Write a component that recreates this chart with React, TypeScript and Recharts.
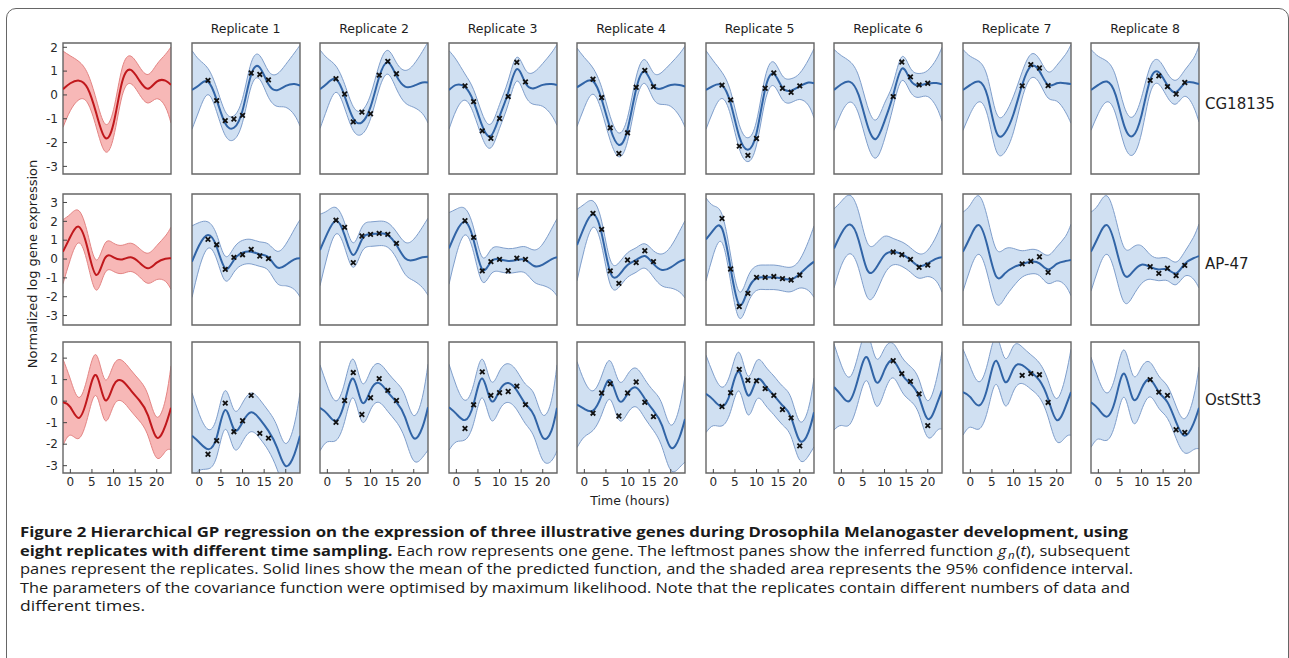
import React from "react";
import { Area, ComposedChart, Line, ReferenceArea, Scatter, XAxis, YAxis } from "recharts";

// time grid (hours) shared by all panels
const TIMES = [-1.7, 0, 2, 4, 6, 8, 10, 12, 14, 16, 18, 20, 22, 23.3];

const GENES = ["CG18135", "AP-47", "OstStt3"];
const REPLICATES = ["Replicate 1", "Replicate 2", "Replicate 3", "Replicate 4", "Replicate 5", "Replicate 6", "Replicate 7", "Replicate 8"];
const X_TICKS = [0, 5, 10, 15, 20];
const Y_TICKS = [
  [2, 1, 0, -1, -2, -3],
  [3, 2, 1, 0, -1, -2, -3],
  [2, 1, 0, -1, -2, -3],
];

// CG18135: row 0 = inferred g_n(t), rows 1..8 = replicates
const cgMeans = [
  [0.24, 0.49, 0.6, 0.28, -0.77, -1.79, -1.2, 0.55, 1.05, 0.6, 0.26, 0.56, 0.6, 0.42],
  [0.21, 0.42, 0.56, -0.2, -1.2, -1.38, -0.65, 0.85, 1.15, 0.45, 0.2, 0.38, 0.46, 0.39],
  [0.24, 0.49, 0.66, -0.05, -0.99, -1.15, -0.5, 0.75, 1.37, 0.8, 0.35, 0.38, 0.52, 0.52],
  [0.21, 0.42, 0.33, -0.28, -1.3, -1.72, -0.9, 0.1, 1.08, 0.5, 0.28, 0.42, 0.46, 0.42],
  [0.32, 0.52, 0.58, -0.18, -1.41, -2.1, -1.45, 0.25, 0.98, 0.38, 0.28, 0.42, 0.42, 0.35],
  [0.21, 0.38, 0.4, -0.35, -1.75, -2.3, -1.6, 0.25, 0.88, 0.3, 0.18, 0.36, 0.52, 0.49],
  [0.21, 0.45, 0.55, 0.0, -1.25, -1.85, -1.1, 0.0, 1.1, 0.62, 0.4, 0.48, 0.5, 0.45],
  [0.21, 0.42, 0.56, -0.07, -1.55, -1.6, -0.8, 0.42, 1.2, 1.0, 0.42, 0.49, 0.49, 0.46],
  [0.21, 0.42, 0.56, 0.0, -1.3, -1.72, -0.85, 0.63, 0.95, 0.4, 0.12, 0.49, 0.52, 0.46],
];
const cgWidths = [
  [1.6, 1.15, 0.8, 0.62, 0.58, 0.58, 0.58, 0.58, 0.58, 0.58, 0.6, 0.72, 1.1, 1.6],
  [1.65, 1.05, 0.55, 0.5, 0.5, 0.5, 0.5, 0.5, 0.5, 0.55, 0.68, 0.9, 1.3, 1.7],
  [1.65, 1.05, 0.55, 0.5, 0.5, 0.5, 0.5, 0.5, 0.5, 0.55, 0.68, 0.9, 1.3, 1.7],
  [1.65, 1.05, 0.55, 0.5, 0.5, 0.5, 0.5, 0.5, 0.5, 0.55, 0.68, 0.9, 1.3, 1.7],
  [1.65, 1.05, 0.55, 0.5, 0.5, 0.5, 0.5, 0.5, 0.5, 0.55, 0.68, 0.9, 1.3, 1.7],
  [1.65, 1.05, 0.55, 0.5, 0.5, 0.5, 0.5, 0.5, 0.5, 0.5, 0.5, 0.55, 0.95, 1.45],
  [1.7, 1.2, 0.85, 0.8, 0.8, 0.8, 0.75, 0.5, 0.5, 0.5, 0.5, 0.55, 1.0, 1.55],
  [1.7, 1.2, 0.85, 0.8, 0.8, 0.8, 0.75, 0.55, 0.5, 0.5, 0.55, 0.75, 1.2, 1.65],
  [1.7, 1.2, 0.85, 0.8, 0.8, 0.8, 0.75, 0.55, 0.5, 0.5, 0.5, 0.55, 1.0, 1.6],
];
const cgPointTimes = [
  [2, 4, 6, 8, 10, 12, 14, 16],
  [2, 4, 6, 8, 10, 12, 14, 16],
  [2, 4, 6, 8, 10, 12, 14, 16],
  [2, 4, 6, 8, 10, 12, 14, 16],
  [2, 4, 6, 8, 10, 12, 14, 16, 18, 20],
  [12, 14, 16, 18, 20],
  [12, 14, 16, 18],
  [12, 14, 16, 18, 20],
];
const cgPointValues = [
  [0.61, -0.24, -1.08, -1.01, -0.86, 0.92, 0.86, 0.63],
  [0.68, 0.04, -1.13, -0.72, -0.79, 0.83, 1.41, 0.89],
  [0.38, -0.28, -1.51, -1.82, -0.99, -0.07, 1.37, 0.55],
  [0.66, -0.11, -1.38, -2.46, -1.59, 0.32, 1.03, 0.35],
  [0.41, -0.21, -2.15, -2.54, -1.83, 0.28, 0.92, 0.28, 0.11, 0.38],
  [-0.07, 1.38, 0.76, 0.42, 0.49],
  [0.38, 1.27, 1.13, 0.39],
  [0.61, 0.8, 0.35, 0.04, 0.52],
];

// AP-47
const apMeans = [
  [0.39, 1.18, 1.71, 0.56, -0.85, 0.04, 0.09, -0.02, 0.09, -0.19, -0.49, -0.19, 0.02, 0.04],
  [-0.14, 0.74, 1.27, 0.65, -0.5, -0.05, 0.34, 0.39, 0.26, 0.09, -0.44, -0.32, -0.02, 0.04],
  [0.48, 1.36, 2.03, 1.27, 0.21, 1.04, 1.32, 1.36, 1.27, 0.74, 0.04, -0.05, 0.09, 0.12],
  [0.56, 1.45, 1.98, 1.0, -0.55, -0.15, -0.02, -0.1, -0.05, -0.05, -0.37, -0.3, -0.02, 0.09],
  [0.74, 1.71, 2.38, 1.36, -0.7, -0.85, -0.32, -0.05, 0.16, -0.26, -0.58, -0.44, -0.14, -0.02],
  [1.04, 1.53, 1.62, -0.49, -2.43, -1.64, -1.02, -0.97, -0.97, -1.04, -1.08, -0.79, -0.37, -0.14],
  [0.56, 1.36, 1.83, 1.0, -0.58, -0.49, 0.21, 0.39, 0.26, -0.05, -0.37, -0.23, 0.02, 0.09],
  [0.39, 1.18, 1.8, 0.65, -0.93, -0.76, -0.44, -0.26, -0.14, -0.23, -0.55, -0.26, -0.11, -0.05],
  [0.39, 1.18, 1.8, 0.65, -0.85, -0.67, -0.3, -0.42, -0.55, -0.55, -0.76, -0.26, 0.04, 0.16],
];
const apWidths = [
  [1.7, 1.2, 0.85, 0.8, 0.8, 0.78, 0.75, 0.75, 0.75, 0.75, 0.8, 0.9, 1.2, 1.65],
  [1.9, 1.2, 0.7, 0.65, 0.65, 0.65, 0.65, 0.65, 0.65, 0.7, 0.85, 1.1, 1.6, 2.05],
  [1.9, 1.2, 0.7, 0.65, 0.65, 0.65, 0.65, 0.65, 0.65, 0.7, 0.85, 1.1, 1.6, 2.05],
  [1.9, 1.2, 0.7, 0.65, 0.65, 0.65, 0.65, 0.65, 0.65, 0.7, 0.85, 1.1, 1.6, 2.05],
  [1.9, 1.2, 0.7, 0.65, 0.65, 0.65, 0.65, 0.65, 0.65, 0.7, 0.85, 1.1, 1.6, 2.05],
  [2.2, 1.3, 0.75, 0.7, 0.7, 0.7, 0.65, 0.65, 0.65, 0.65, 0.65, 0.75, 1.3, 1.9],
  [2.1, 1.7, 1.55, 1.5, 1.45, 1.3, 1.0, 0.7, 0.65, 0.65, 0.65, 0.7, 1.2, 1.85],
  [2.1, 1.7, 1.55, 1.5, 1.45, 1.3, 1.0, 0.7, 0.65, 0.65, 0.75, 0.9, 1.3, 1.9],
  [2.1, 1.7, 1.55, 1.5, 1.45, 1.3, 1.0, 0.65, 0.6, 0.6, 0.6, 0.65, 1.1, 1.7],
];
const apPointTimes = cgPointTimes;
const apPointValues = [
  [1.04, 0.76, -0.55, 0.09, 0.23, 0.51, 0.16, 0.02],
  [2.06, 1.68, -0.19, 1.22, 1.31, 1.36, 1.31, 0.83],
  [2.03, 1.15, -0.63, -0.14, -0.02, -0.62, 0.05, -0.02],
  [2.42, 1.57, -0.63, -1.29, -0.05, -0.19, 0.44, -0.14],
  [2.15, -0.53, -2.52, -1.82, -0.97, -0.97, -0.93, -1.04, -1.11, -0.85],
  [0.37, 0.23, -0.02, -0.44, -0.32],
  [-0.26, -0.12, 0.12, -0.71],
  [-0.41, -0.76, -0.49, -0.88, -0.34],
];

// OstStt3
const ostMeans = [
  [-0.05, -0.28, -0.78, 0.19, 1.2, 0.06, 0.73, 0.94, 0.5, 0.03, -0.67, -1.69, -1.14, -0.31],
  [-1.61, -1.92, -2.23, -1.69, -0.41, -1.3, -0.98, -0.52, -0.83, -1.38, -2.16, -3.02, -2.47, -1.61],
  [-0.31, -0.59, -0.91, -0.05, 1.05, -0.05, 0.5, 0.84, 0.42, -0.05, -0.75, -1.72, -1.22, -0.28],
  [-0.28, -0.59, -0.88, -0.13, 1.05, 0.03, 0.5, 0.84, 0.5, -0.13, -0.67, -1.69, -1.38, -0.31],
  [-0.16, -0.36, -0.44, 0.27, 0.97, 0.03, 0.34, 0.63, 0.11, -0.44, -1.14, -2.16, -1.69, -0.83],
  [0.34, 0.06, -0.25, 0.42, 1.36, 0.27, 0.97, 0.73, 0.27, -0.2, -0.75, -1.84, -1.45, -0.52],
  [0.66, 0.27, 0.03, 1.13, 2.03, 0.9, 1.45, 1.88, 1.25, 0.81, 0.19, -0.83, -0.2, 0.5],
  [0.42, 0.19, -0.2, 0.66, 1.88, 0.9, 1.52, 1.67, 1.36, 0.97, 0.11, -0.88, -0.28, 0.42],
  [-0.05, -0.36, -0.72, 0.11, 1.28, 0.11, 0.58, 1.0, 0.42, -0.05, -0.98, -1.61, -1.06, -0.31],
];
const ostWidths = [
  [2.0, 1.3, 0.95, 0.95, 0.95, 0.95, 0.95, 0.95, 0.95, 0.95, 0.95, 0.95, 1.2, 1.95],
  [2.0, 1.3, 0.92, 0.9, 0.9, 0.9, 0.9, 0.9, 0.9, 0.92, 1.0, 1.05, 1.4, 2.0],
  [2.0, 1.3, 0.92, 0.9, 0.9, 0.9, 0.9, 0.9, 0.9, 0.92, 1.0, 1.05, 1.4, 2.0],
  [2.0, 1.3, 0.92, 0.9, 0.9, 0.9, 0.9, 0.9, 0.9, 0.92, 1.0, 1.05, 1.4, 2.0],
  [2.0, 1.3, 0.92, 0.9, 0.9, 0.9, 0.9, 0.9, 0.9, 0.92, 1.0, 1.05, 1.4, 2.0],
  [1.8, 1.2, 0.9, 0.9, 0.9, 0.9, 0.9, 0.9, 0.9, 0.9, 0.9, 0.9, 1.1, 1.6],
  [2.0, 1.4, 1.1, 1.1, 1.1, 1.1, 1.0, 0.8, 0.8, 0.8, 0.8, 0.85, 1.2, 1.8],
  [2.0, 1.4, 1.1, 1.1, 1.1, 1.1, 1.05, 0.85, 0.8, 0.8, 0.85, 1.0, 1.4, 2.0],
  [2.1, 1.4, 1.1, 1.1, 1.1, 1.1, 1.0, 0.8, 0.75, 0.75, 0.75, 0.8, 1.2, 1.9],
];
const ostPointTimes = cgPointTimes;
const ostPointValues = [
  [-2.47, -1.84, -0.09, -1.42, -0.91, 0.27, -1.5, -1.72],
  [-0.98, 0.03, 1.33, -0.62, 0.16, 1.05, 0.5, 0.03],
  [-1.27, -0.17, 1.36, 0.27, 0.39, 0.45, 0.7, -0.16],
  [-0.56, 0.38, 0.81, -0.69, 0.38, 0.89, -0.05, -0.72],
  [-0.25, 0.39, 1.48, 0.97, 0.94, 0.58, 0.27, -0.39, -0.78, -2.08],
  [1.88, 1.28, 0.92, 0.34, -1.14],
  [1.2, 1.28, 1.23, -0.06],
  [1.0, 0.42, 0.27, -1.33, -1.45],
];

const MEANS = [cgMeans, apMeans, ostMeans];
const WIDTHS = [cgWidths, apWidths, ostWidths];
const POINT_TIMES = [cgPointTimes, apPointTimes, ostPointTimes];
const POINT_VALUES = [cgPointValues, apPointValues, ostPointValues];

// layout
const X_DOMAIN: [number, number] = [-1.7, 23.3];
const Y_DOMAINS: [number, number][] = [
  [-3.32, 2.18],
  [-3.5, 3.45],
  [-3.34, 2.75],
];
const PANEL_LEFT = [63, 191.5, 320, 448.5, 577, 705.5, 834, 962.5, 1091];
const PANEL_TOP = [43, 194, 342];
const PANEL_W = 108;
const PANEL_H = 131;
const AXIS_W = 40;
const AXIS_H = 24;
const PAD = 4;

const RED = { line: "#c0181c", fill: "#f7b8b7", edge: "#e38483" };
const BLUE = { line: "#3164a6", fill: "#d0e0f2", edge: "#7f9ecb" };
const TICK_FONT = { fontSize: 12, fill: "#2a2a2a", fontFamily: "DejaVu Sans, sans-serif" };

function XMark(props: any) {
  const { cx, cy } = props;
  if (cx == null || cy == null) return null;
  const s = 2.3;
  return (
    <path
      d={`M${cx - s},${cy - s}L${cx + s},${cy + s}M${cx - s},${cy + s}L${cx + s},${cy - s}`}
      stroke="#111"
      strokeWidth={1.8}
      fill="none"
    />
  );
}

function Panel({ row, col }: { row: number; col: number }) {
  const means = MEANS[row][col];
  const widths = WIDTHS[row][col];
  const data = TIMES.map((t, i) => ({ t, mean: means[i], band: [means[i] - widths[i], means[i] + widths[i]] }));
  const pts =
    col === 0
      ? []
      : POINT_TIMES[row][col - 1].map((t, i) => ({ t, v: POINT_VALUES[row][col - 1][i] }));
  const colors = col === 0 ? RED : BLUE;
  const showY = col === 0;
  const showX = row === 2;
  const [y0, y1] = Y_DOMAINS[row];

  return (
    <div style={{ position: "absolute", left: PANEL_LEFT[col] - AXIS_W, top: PANEL_TOP[row] - PAD }}>
      <ComposedChart
        width={PANEL_W + AXIS_W + PAD}
        height={PANEL_H + AXIS_H + PAD}
        data={data}
        margin={{ top: PAD, right: PAD, left: showY ? 0 : AXIS_W, bottom: showX ? 0 : AXIS_H }}
      >
        <XAxis
          type="number"
          dataKey="t"
          domain={X_DOMAIN}
          allowDataOverflow
          hide={!showX}
          height={AXIS_H}
          ticks={X_TICKS}
          interval={0}
          tick={TICK_FONT}
          tickSize={-4}
          tickMargin={8}
          axisLine={false}
          tickLine={{ stroke: "#444" }}
        />
        <YAxis
          type="number"
          domain={[y0, y1]}
          allowDataOverflow
          hide={!showY}
          width={AXIS_W}
          ticks={Y_TICKS[row]}
          interval={0}
          tick={TICK_FONT}
          tickSize={-4}
          tickMargin={9}
          axisLine={false}
          tickLine={{ stroke: "#444" }}
        />
        <Area
          type="natural"
          dataKey="band"
          fill={colors.fill}
          fillOpacity={1}
          stroke={colors.edge}
          strokeWidth={1}
          dot={false}
          activeDot={false}
          isAnimationActive={false}
        />
        <Line
          type="natural"
          dataKey="mean"
          stroke={colors.line}
          strokeWidth={2}
          dot={false}
          activeDot={false}
          isAnimationActive={false}
        />
        {pts.length > 0 && (
          <Scatter data={pts} dataKey="v" shape={XMark} isAnimationActive={false} />
        )}
        <ReferenceArea
          x1={X_DOMAIN[0]}
          x2={X_DOMAIN[1]}
          y1={y0}
          y2={y1}
          fill="none"
          stroke="#666"
          strokeWidth={1.4}
          ifOverflow="visible"
        />
      </ComposedChart>
    </div>
  );
}

const CAPTION_X = 20;
const CAPTION_BASE = [537, 555.5, 574, 592.5, 611];
const CAPTION_LEN = [1108, 1110, 1113, 1110, 125];

function Caption() {
  const font = { fontFamily: "'Open Sans', 'Noto Sans', sans-serif", fontSize: 15, fill: "#1a1a1a" };
  return (
    <svg width={1289} height={658} style={{ position: "absolute", left: 0, top: 0, pointerEvents: "none" }}>
      <text x={CAPTION_X} y={CAPTION_BASE[0]} textLength={CAPTION_LEN[0]} lengthAdjust="spacingAndGlyphs" {...font} fontWeight="bold">
        Figure 2 Hierarchical GP regression on the expression of three illustrative genes during Drosophila Melanogaster development, using
      </text>
      <text x={CAPTION_X} y={CAPTION_BASE[1]} textLength={CAPTION_LEN[1]} lengthAdjust="spacingAndGlyphs" {...font}>
        <tspan fontWeight="bold">eight replicates with different time sampling.</tspan>
        <tspan> Each row represents one gene. The leftmost panes show the inferred function </tspan>
        <tspan fontStyle="italic">g</tspan>
        <tspan fontStyle="italic" fontSize={10.5} dx={1.6} dy={3}>n</tspan>
        <tspan dx={1} dy={-3}>(</tspan>
        <tspan fontStyle="italic">t</tspan>
        <tspan>), subsequent</tspan>
      </text>
      <text x={CAPTION_X} y={CAPTION_BASE[2]} textLength={CAPTION_LEN[2]} lengthAdjust="spacingAndGlyphs" {...font}>
        panes represent the replicates. Solid lines show the mean of the predicted function, and the shaded area represents the 95% confidence interval.
      </text>
      <text x={CAPTION_X} y={CAPTION_BASE[3]} textLength={CAPTION_LEN[3]} lengthAdjust="spacingAndGlyphs" {...font}>
        The parameters of the covariance function were optimised by maximum likelihood. Note that the replicates contain different numbers of data and
      </text>
      <text x={CAPTION_X} y={CAPTION_BASE[4]} textLength={CAPTION_LEN[4]} lengthAdjust="spacingAndGlyphs" {...font}>
        different times.
      </text>
    </svg>
  );
}

export default function App() {
  const label = { position: "absolute" as const, fontFamily: "DejaVu Sans, sans-serif", color: "#1e1e1e", whiteSpace: "nowrap" as const };
  return (
    <div style={{ position: "absolute", left: 0, top: 0, width: 1289, height: 658, overflow: "hidden", background: "#fff" }}>
      <div
        style={{
          position: "absolute",
          left: 6,
          top: 8,
          width: 1283,
          height: 720,
          border: "1.5px solid #666",
          borderRadius: 10,
          boxSizing: "border-box",
        }}
      />
      {REPLICATES.map((r, i) => (
        <div key={r} style={{ ...label, left: PANEL_LEFT[i + 1], top: 21, width: PANEL_W, textAlign: "center", fontSize: 12.5, lineHeight: "16px" }}>
          {r}
        </div>
      ))}
      {GENES.map((g, r) => (
        <div key={g} style={{ ...label, left: 1205, top: [95, 255, 391][r], fontSize: 15, lineHeight: "18px" }}>
          {g}
        </div>
      ))}
      <div
        style={{
          ...label,
          left: 33 - 150,
          top: 264 - 8,
          width: 300,
          textAlign: "center",
          fontSize: 13,
          lineHeight: "16px",
          transform: "rotate(-90deg)",
        }}
      >
        Normalized log gene expression
      </div>
      <div style={{ ...label, left: 630 - 60, top: 493, width: 120, textAlign: "center", fontSize: 12.5, lineHeight: "16px" }}>
        Time (hours)
      </div>
      {[0, 1, 2].map((row) =>
        [0, 1, 2, 3, 4, 5, 6, 7, 8].map((col) => <Panel key={`${row}-${col}`} row={row} col={col} />)
      )}
      <Caption />
    </div>
  );
}
